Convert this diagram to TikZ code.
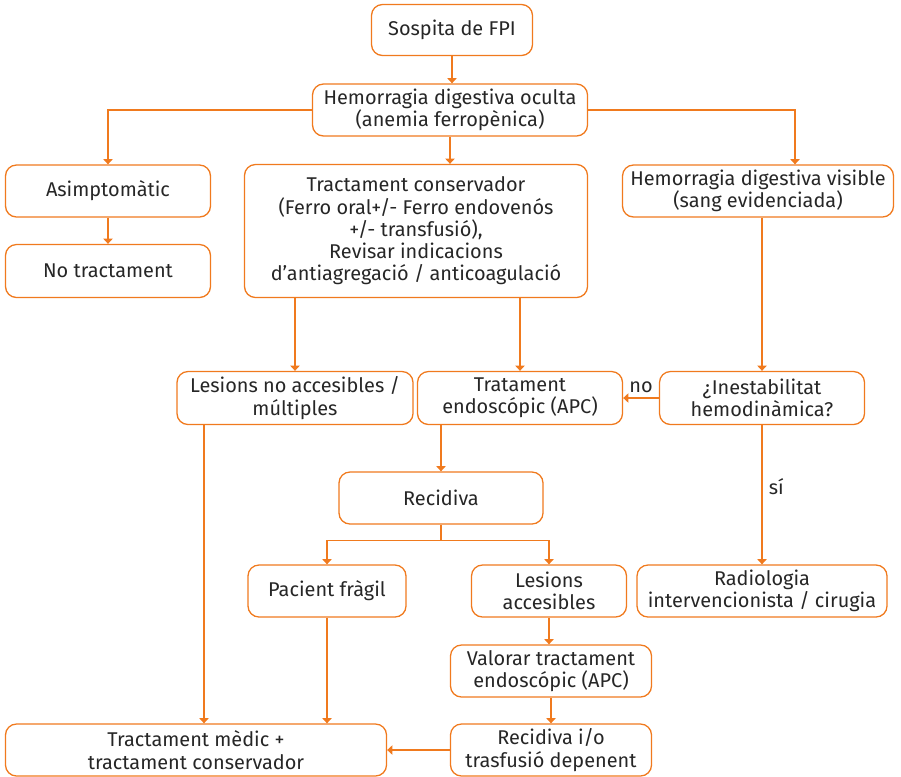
\documentclass[tikz,border=0pt]{standalone}
\usepackage{fontspec}
\setmainfont{Fira Sans}
\usetikzlibrary{arrows.meta}
\definecolor{taronja}{RGB}{240,122,30}
\begin{document}
\begin{tikzpicture}[x=0.03cm, y=-0.03cm,
    caixa/.style={draw=taronja, line width=1.1pt, rounded corners=0.33cm, align=center,
      inner sep=0pt, text=black!85, font=\fontsize{17}{19}\selectfont},
    fletxa/.style={draw=taronja, line width=1.1pt, -{Triangle[width=8pt,length=4.5pt]}},
    linia/.style={draw=taronja, line width=1.1pt},
    etiqueta/.style={text=black!85, font=\fontsize{17}{19}\selectfont}]
    \useasboundingbox (0,0) rectangle (901,776);

    % fila superior
    \node[caixa, minimum width=4.83cm, minimum height=1.53cm] (sospita) at (452,30) {Sospita de FPI};
    \node[caixa, minimum width=8.25cm, minimum height=1.56cm] (oculta) at (450,110) {Hemorragia digestiva oculta\\(anemia ferropènica)};

    % segona fila
    \node[caixa, minimum width=6.15cm, minimum height=1.56cm] (asimp) at (108,191) {Asimptomàtic};
    \node[caixa, minimum width=6.15cm, minimum height=1.59cm] (notract) at (108,271) {No tractament};
    \node[caixa, minimum width=10.29cm, minimum height=3.99cm] (conserv) at (416,231) {Tractament conservador\\(Ferro oral+/- Ferro endovenós\\+/- transfusió),\\Revisar indicacions\\d’antiagregació / anticoagulació};
    \node[caixa, minimum width=8.13cm, minimum height=1.56cm] (visible) at (758,191) {Hemorragia digestiva visible\\(sang evidenciada)};

    % tercera fila
    \node[caixa, minimum width=7.08cm, minimum height=1.59cm] (nolesions) at (295,398) {Lesions no accesibles /\\múltiples};
    \node[caixa, minimum width=6.15cm, minimum height=1.59cm] (endosc) at (520,398) {Tratament\\endoscópic (APC)};
    \node[caixa, minimum width=6.15cm, minimum height=1.59cm] (inest) at (762,398) {¿Inestabilitat\\hemodinàmica?};

    % recidiva
    \node[caixa, minimum width=6.12cm, minimum height=1.56cm] (recidiva) at (441,498) {Recidiva};
    \node[caixa, minimum width=4.74cm, minimum height=1.56cm] (fragil) at (327,591) {Pacient fràgil};
    \node[caixa, minimum width=4.65cm, minimum height=1.56cm] (lesacc) at (549,591) {Lesions\\accesibles};
    \node[caixa, minimum width=7.5cm, minimum height=1.56cm] (radio) at (762,591) {Radiologia\\intervencionista / cirugia};
    \node[caixa, minimum width=6.03cm, minimum height=1.56cm] (valorar) at (551,671) {Valorar tractament\\endoscópic (APC)};
    \node[caixa, minimum width=6.03cm, minimum height=1.56cm] (recidiva2) at (551,750) {Recidiva i/o\\trasfusió depenent};
    \node[caixa, minimum width=11.43cm, minimum height=1.56cm] (medic) at (196,750) {Tractament mèdic +\\tractament conservador};

    % connexions
    \draw[fletxa] (sospita.south) -- (sospita.south |- oculta.north);
    \draw[fletxa] (oculta.west) -| (asimp.north);
    \draw[fletxa] (oculta.east) -| ([xshift=1.11cm]visible.north);
    \draw[fletxa] (oculta.south) -- (oculta.south |- conserv.north);
    \draw[fletxa] (asimp) -- (notract);
    \draw[fletxa] (conserv.south -| nolesions.north) -- (nolesions.north);
    \draw[fletxa] (conserv.south -| endosc.north) -- (endosc.north);
    \draw[fletxa] (visible.south -| inest.north) -- (inest.north);
    \draw[fletxa] (inest.west) -- (endosc.east) node[etiqueta, midway, above=1pt] {no};
    \draw[fletxa] (inest) -- (radio) node[etiqueta, pos=0.44, right=2pt] {sí};
    \draw[fletxa] (endosc.south -| recidiva.north) -- (recidiva.north);
    \draw[linia] (recidiva.south) -- ++(0,16) coordinate (rsplit);
    \draw[fletxa] (rsplit) -| (fragil.north);
    \draw[fletxa] (rsplit) -| (lesacc.north);
    \draw[fletxa] (lesacc.south) -- (lesacc.south |- valorar.north);
    \draw[fletxa] (valorar) -- (recidiva2);
    \draw[fletxa] (recidiva2.west) -- (medic.east);
    \draw[fletxa] ([xshift=-2.73cm]nolesions.south) -- ([xshift=-2.73cm]nolesions.south |- medic.north);
    \draw[fletxa] (fragil.south) -- (fragil.south |- medic.north);
\end{tikzpicture}
\end{document}
